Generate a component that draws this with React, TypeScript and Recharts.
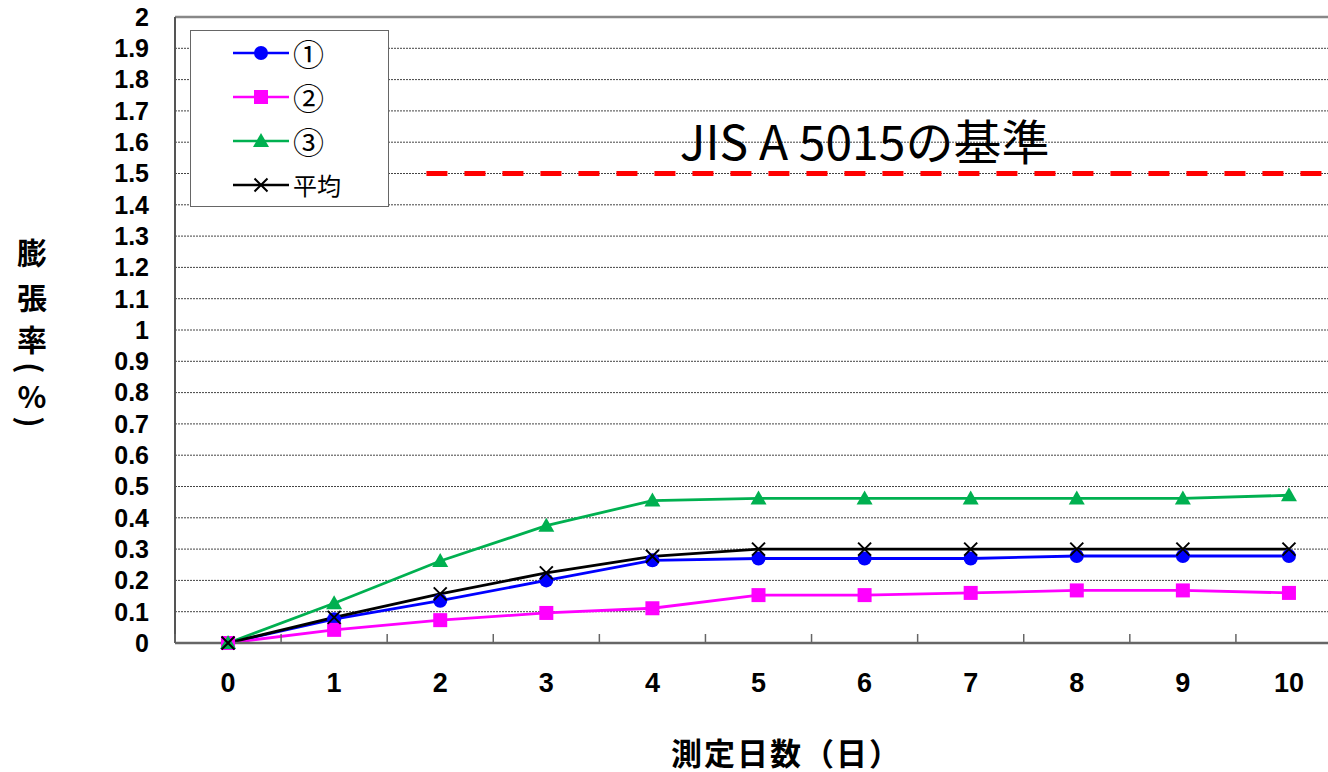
import React from 'react';
import { CartesianGrid, Legend, Line, LineChart, ReferenceDot, ReferenceLine, XAxis, YAxis } from 'recharts';

// measurement days and expansion ratio (%) per sample
const DAYS = [0, 1, 2, 3, 4, 5, 6, 7, 8, 9, 10];
const SAMPLE_1 = [0, 0.076, 0.135, 0.2, 0.264, 0.27, 0.27, 0.27, 0.278, 0.278, 0.278];
const SAMPLE_2 = [0, 0.042, 0.073, 0.096, 0.111, 0.153, 0.153, 0.16, 0.168, 0.168, 0.16];
const SAMPLE_3 = [0, 0.127, 0.262, 0.375, 0.455, 0.462, 0.462, 0.462, 0.462, 0.462, 0.472];
const AVERAGE = [0, 0.082, 0.157, 0.224, 0.277, 0.3, 0.3, 0.3, 0.3, 0.3, 0.3];

const Y_TICKS = [0, 0.1, 0.2, 0.3, 0.4, 0.5, 0.6, 0.7, 0.8, 0.9, 1, 1.1, 1.2, 1.3, 1.4, 1.5, 1.6, 1.7, 1.8, 1.9, 2];

// JIS A 5015 limit line
const STANDARD_VALUE = 1.5;
const STANDARD_FROM = 1.87;
const STANDARD_LABEL = 'JIS A 5015の基準';

// vertical axis title; parentheses are turned sideways
const Y_TITLE = [
  { ch: '膨', turn: false },
  { ch: '張', turn: false },
  { ch: '率', turn: false },
  { ch: '(', turn: true },
  { ch: '%', turn: false },
  { ch: ')', turn: true },
];
const X_TITLE = '測定日数（日）';

const SERIES = [
  { key: 's1', name: '①', color: '#0000ff', marker: 'circle' },
  { key: 's2', name: '②', color: '#ff00ff', marker: 'square' },
  { key: 's3', name: '③', color: '#00b050', marker: 'triangle' },
  { key: 'avg', name: '平均', color: '#000000', marker: 'cross' },
];

const data = DAYS.map((day, i) => ({
  day,
  s1: SAMPLE_1[i],
  s2: SAMPLE_2[i],
  s3: SAMPLE_3[i],
  avg: AVERAGE[i],
}));

// integer ticks carry the labels, half ticks mark the category boundaries
const X_TICKS = [...DAYS.map((d) => d - 0.5), ...DAYS, DAYS[DAYS.length - 1] + 0.5].sort((a, b) => a - b);

const NUM_FONT = '"Liberation Sans", Arial, sans-serif';
const JP_FONT = '"Noto Sans CJK JP", sans-serif';

function Marker({ kind, cx, cy, color }: { kind: string; cx: number; cy: number; color: string }) {
  if (kind === 'circle') return <circle cx={cx} cy={cy} r={7} fill={color} />;
  if (kind === 'square') return <rect x={cx - 7} y={cy - 7} width={14} height={14} fill={color} />;
  if (kind === 'triangle')
    return <polygon points={`${cx},${cy - 8} ${cx + 8},${cy + 6} ${cx - 8},${cy + 6}`} fill={color} />;
  return (
    <path
      d={`M${cx - 6.5},${cy - 6.5}L${cx + 6.5},${cy + 6.5}M${cx + 6.5},${cy - 6.5}L${cx - 6.5},${cy + 6.5}`}
      stroke={color}
      strokeWidth={2}
      fill="none"
    />
  );
}

const XTick = (props: any) => {
  const { x, y, payload } = props;
  const v = payload.value;
  if (Number.isInteger(v)) {
    return (
      <text x={x} y={y + 40} textAnchor="middle" dominantBaseline="central" fontSize={27} fontWeight={700} fontFamily={NUM_FONT} fill="#000">
        {v}
      </text>
    );
  }
  return <line x1={x} x2={x} y1={y} y2={y - 9} stroke="#666" strokeWidth={1.5} />;
};

const YTitle = () => {
  const centers = [251, 296, 338, 368, 395, 422];
  return (
    <g fontSize={30} fontWeight={700} fontFamily={JP_FONT} fill="#000">
      {Y_TITLE.map((c, i) => (
        <text
          key={i}
          x={32}
          y={centers[i]}
          textAnchor="middle"
          dominantBaseline="central"
          transform={c.turn ? `rotate(90 32 ${centers[i]})` : undefined}
        >
          {c.ch}
        </text>
      ))}
    </g>
  );
};

const XTitle = (props: any) => {
  const { viewBox } = props;
  const cx = viewBox.x + viewBox.width / 2 + 28;
  return (
    <text x={cx} y={viewBox.y + 108} textAnchor="middle" dominantBaseline="central" fontSize={31} fontWeight={700} fontFamily={JP_FONT} letterSpacing={2} fill="#000">
      {X_TITLE}
    </text>
  );
};

const LegendBox = () => (
  <div
    style={{
      position: 'relative',
      width: 199,
      height: 177,
      boxSizing: 'border-box',
      background: '#fff',
      border: '1.5px solid #666',
    }}
  >
    {SERIES.map((s, i) => (
      <div
        key={s.key}
        style={{ position: 'absolute', left: 42, top: 9 + i * 44, height: 26, display: 'flex', alignItems: 'center' }}
      >
        <svg width={56} height={26}>
          <line x1={0} x2={56} y1={13} y2={13} stroke={s.color} strokeWidth={2.5} />
          <Marker kind={s.marker} cx={28} cy={13} color={s.color} />
        </svg>
        <span
          style={{
            marginLeft: 4,
            fontSize: s.name.length === 1 ? 31 : 24,
            fontFamily: JP_FONT,
            color: '#000',
            lineHeight: '26px',
          }}
        >
          {s.name}
        </span>
      </div>
    ))}
  </div>
);

export default function App() {
  return (
    <div style={{ position: 'absolute', left: 0, top: 0, width: 1328, height: 772, overflow: 'hidden', background: '#fff' }}>
      <LineChart width={1345} height={772} data={data} margin={{ top: 17, right: 3, bottom: 29, left: 0 }}>
        <CartesianGrid vertical={false} stroke="#444" strokeDasharray="2 1" />
        <XAxis
          type="number"
          dataKey="day"
          domain={[-0.5, 10.5]}
          ticks={X_TICKS}
          interval={0}
          height={100}
          tickLine={false}
          tickSize={0}
          tickMargin={0}
          tick={XTick}
          axisLine={{ stroke: '#666', strokeWidth: 2.5 }}
          label={{ content: XTitle }}
        />
        <YAxis
          type="number"
          domain={[0, 2]}
          ticks={Y_TICKS}
          interval={0}
          width={175}
          tickLine={false}
          tickSize={0}
          tickMargin={26}
          tick={{ fill: '#000', fontSize: 25, fontWeight: 700, fontFamily: NUM_FONT }}
          axisLine={{ stroke: '#555', strokeWidth: 2 }}
          label={{ content: YTitle }}
        />
        <ReferenceLine y={2} stroke="#888" strokeWidth={2.5} />
        <ReferenceLine
          segment={[
            { x: STANDARD_FROM, y: STANDARD_VALUE },
            { x: 10.5, y: STANDARD_VALUE },
          ]}
          stroke="#ff0000"
          strokeWidth={5}
          strokeDasharray="21 17"
        />
        <ReferenceDot
          x={6}
          y={STANDARD_VALUE}
          r={0}
          fill="none"
          stroke="none"
          label={{ value: STANDARD_LABEL, position: 'top', offset: 14, fontSize: 48, fontFamily: JP_FONT, fill: '#000' }}
        />
        {SERIES.map((s) => (
          <Line
            key={s.key}
            dataKey={s.key}
            name={s.name}
            type="linear"
            stroke={s.color}
            strokeWidth={2.8}
            isAnimationActive={false}
            dot={(p: any) => <Marker key={`${s.key}-${p.index}`} kind={s.marker} cx={p.cx} cy={p.cy} color={s.color} />}
            activeDot={false}
          />
        ))}
        <Legend
          layout="vertical"
          align="center"
          verticalAlign="middle"
          wrapperStyle={{ left: 190, top: 30, width: 199, height: 177 }}
          content={LegendBox}
        />
      </LineChart>
    </div>
  );
}
